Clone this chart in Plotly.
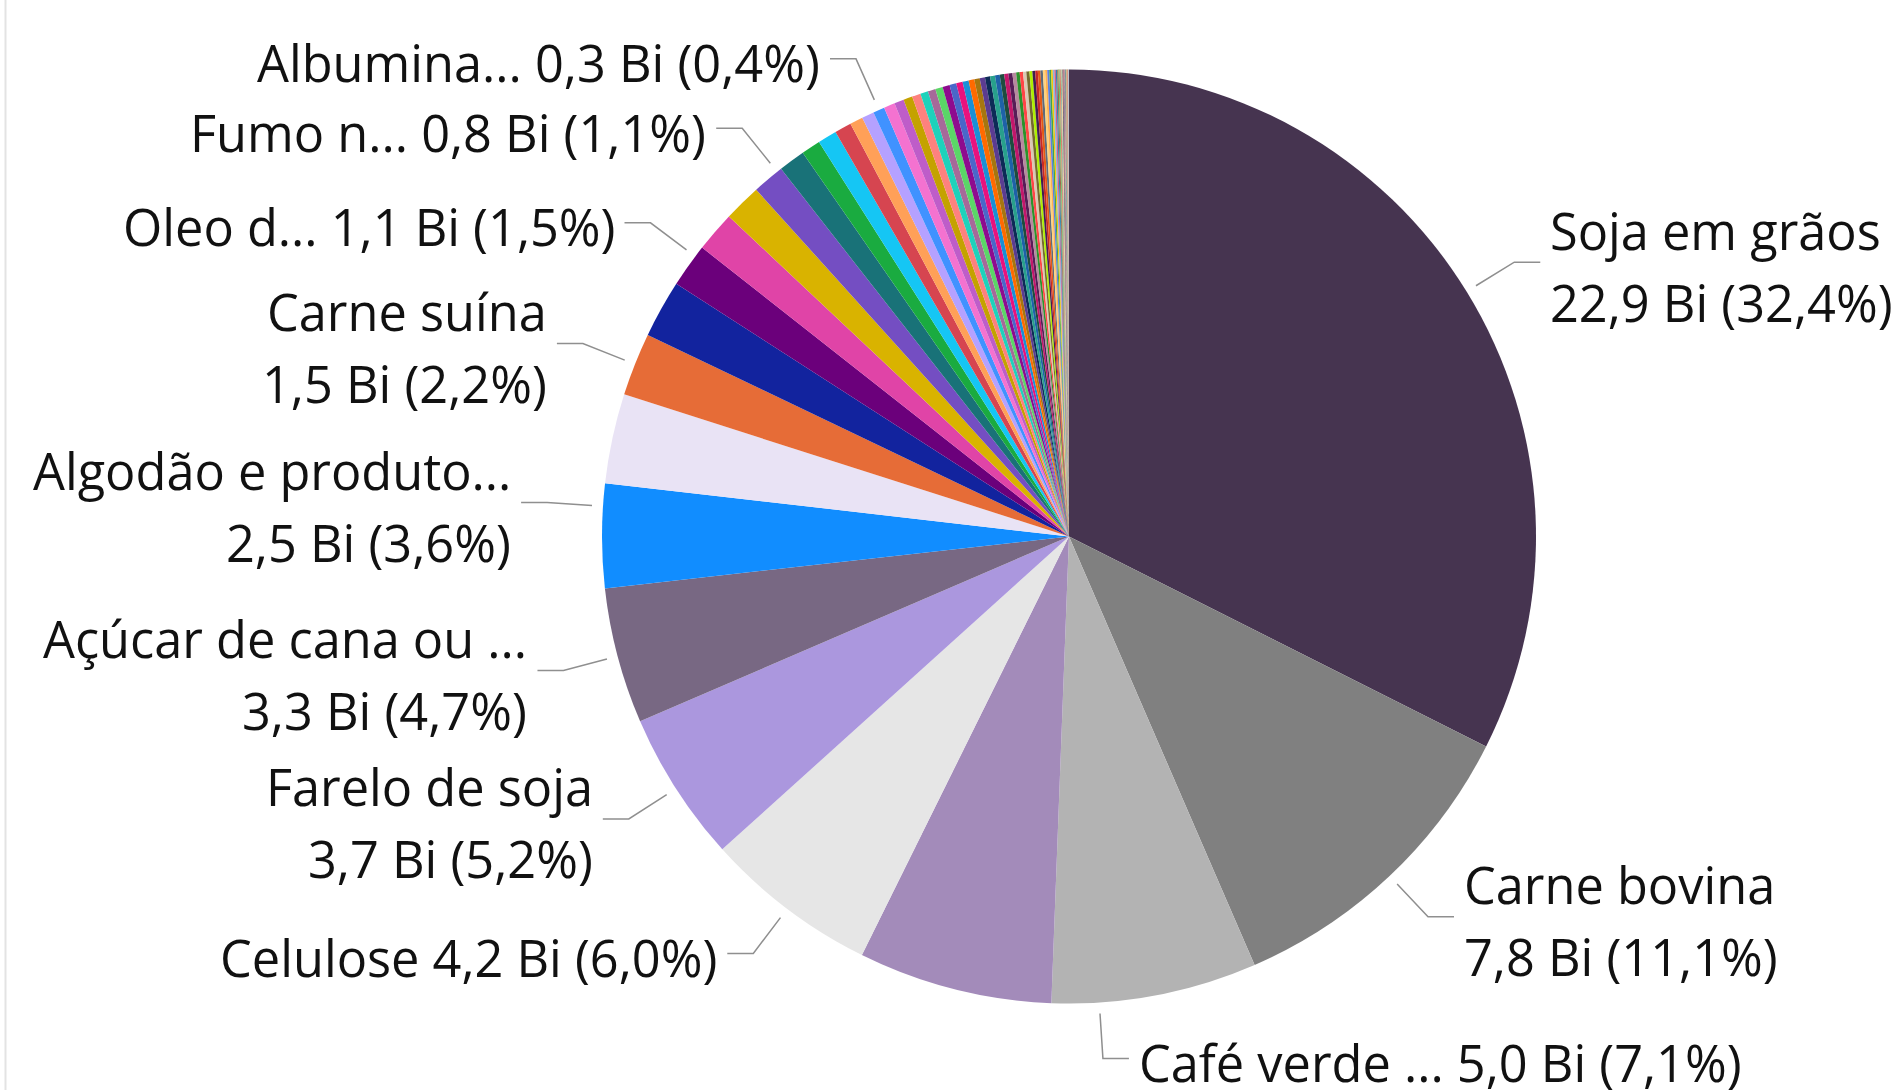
import math
import plotly.graph_objects as go

# ---------------- data ----------------
main_categories = [
    "Soja em grãos", "Carne bovina", "Café verde ...", "Milho", "Celulose",
    "Farelo de soja", "Açúcar de cana ou ...", "Algodão e produto...",
    "Sumos de laranja", "Carne suína", "Carnes de aves", "Oleo d...",
    "Couros", "Madeira", "Fumo n...",
]
main_values = [22.90, 7.82, 5.02, 4.74, 4.24, 3.68, 3.32, 2.54, 2.19, 1.54, 1.41, 1.07, 0.99, 0.92, 0.78]

mid_categories = [
    "Produto 16", "Produto 17", "Produto 18", "Produto 19", "Produto 20",
    "Produto 21", "Albumina...", "Produto 23", "Produto 24", "Produto 25", "Produto 26",
]
mid_values = [0.65, 0.47, 0.465, 0.41, 0.32, 0.30, 0.28, 0.27, 0.235, 0.22, 0.21]

small_values = [0.191, 0.187, 0.181, 0.173, 0.165, 0.157, 0.149, 0.140, 0.133, 0.129,
                0.124, 0.121, 0.115, 0.108, 0.102, 0.098, 0.091, 0.084, 0.082, 0.080,
                0.075, 0.071, 0.068, 0.064, 0.062, 0.059, 0.055, 0.051, 0.048]
tail_values = [0.044, 0.041, 0.039, 0.035, 0.033, 0.030, 0.028, 0.026, 0.023, 0.021,
               0.019, 0.018, 0.015, 0.014, 0.013, 0.012, 0.011, 0.009, 0.008, 0.007,
               0.006, 0.005, 0.005, 0.004, 0.004, 0.002, 0.002, 0.001, 0.001, 0.001]
small_categories = ["Produto %d" % (27 + i) for i in range(len(small_values) + len(tail_values))]

# labelled slices: category -> name wrapped onto its own line?
label_two_lines = {
    "Soja em grãos": True, "Carne bovina": True, "Café verde ...": False,
    "Celulose": False, "Farelo de soja": True, "Açúcar de cana ou ...": True,
    "Algodão e produto...": True, "Carne suína": True, "Oleo d...": False,
    "Fumo n...": False, "Albumina...": False,
}
# where along its slice each leader line starts (0 = slice start, 1 = slice end)
anchor_frac = {"Café verde ...": 0.77, "Algodão e produto...": 0.78,
               "Oleo d...": 0.75, "Fumo n...": 0.85}

# ---------------- styles ----------------
colors = [
    "#463450", "#808080", "#B3B3B3", "#A38BBA", "#E6E6E6", "#AB97DE", "#786883",
    "#118DFF", "#E9E3F5", "#E66C37", "#12239E", "#6B007B", "#E044A7", "#D9B300",
    "#744EC2", "#197278", "#1AAB40", "#15C6F4", "#D64550", "#FFA058", "#B5A1FF",
    "#4092FF", "#F472D0", "#BE5DC9", "#C4A200", "#FD817E", "#1ED2BB", "#A66999",
    "#5BD667", "#8E0B8E", "#4A67C9", "#E8127E", "#1A8FD6", "#FF6A00", "#A6760F",
    "#5B3C91", "#0D2B57", "#28A08C", "#1E62A8", "#1D4D3F", "#C2176B", "#571D57",
    "#B8899E", "#2C922C", "#FF4545", "#D9C9B3", "#756A2E", "#AEF000", "#3F1F4F",
    "#C62828", "#E55A14", "#5F6B7A", "#FFD27A", "#FFB04F", "#5C7EDE",
    "#3FA34D", "#F0C808", "#8FB3E0", "#D05A8A", "#2E86AB", "#9C6644", "#6ABF69",
    "#E07A5F", "#81B29A", "#F2CC8F", "#3D405B", "#B56576", "#6D597A", "#EAAC8B",
    "#355070", "#43AA8B", "#F9844A", "#90BE6D", "#577590", "#F94144", "#F3722C",
    "#F8961E", "#4D908E", "#277DA1", "#C5A3FF", "#A0C4FF", "#FFADAD", "#CAFFBF",
    "#9BF6FF", "#BDB2FF",
]

W, H = 1897, 1090
CX, CY, R = 1069, 536.5, 467
FONT = "Segoe UI, Open Sans, sans-serif"
FS = 50.5
TEXT_DROP = 4      # text sits slightly below its leader line
LINE_GAP = 36      # half the distance between the two lines of a wrapped label

categories = main_categories + mid_categories + small_categories
values = main_values + mid_values + small_values + tail_values
total = sum(values)

fig = go.Figure()
fig.add_trace(go.Pie(
    labels=categories, values=values, sort=False, direction="clockwise", rotation=0,
    marker=dict(colors=colors[:len(values)], line=dict(width=0)),
    textinfo="none", showlegend=False,
    domain=dict(x=[(CX - R) / W, (CX + R) / W], y=[1 - (CY + R) / H, 1 - (CY - R) / H]),
    hovertemplate="%{label}<br>%{value:.2f} Bi (%{percent})<extra></extra>",
))

def fmt(v, d=1):
    return ("%.*f" % (d, v)).replace(".", ",")

lx, ly = [], []
annotations = []
cum = 0.0
for cat, v in zip(categories, values):
    start = cum
    cum += v
    if cat not in label_two_lines:
        continue
    f = anchor_frac.get(cat, 0.5)
    ang = 2 * math.pi * (start + f * v) / total
    s, c = math.sin(ang), math.cos(ang)
    x1, y1 = CX + (R + 11) * s, CY - (R + 11) * c
    x2, y2 = CX + (R + 56) * s, CY - (R + 56) * c
    side = 1 if s >= 0 else -1
    x3 = x2 + side * 26
    lx += [x1, x2, x3, None]
    ly += [y1, y2, y2, None]
    vtxt = "%s Bi (%s%%)" % (fmt(v), fmt(100 * v / total))
    xt = x3 + side * 8
    xanchor = "left" if side > 0 else "right"
    yc = y2 + TEXT_DROP
    if label_two_lines[cat]:
        lines = [(cat, yc - LINE_GAP), (vtxt, yc + LINE_GAP)]
    else:
        lines = [(cat + " " + vtxt, yc)]
    for t, yy in lines:
        annotations.append(dict(
            x=xt, y=yy, xref="x", yref="y", text=t, showarrow=False,
            xanchor=xanchor, yanchor="middle",
            font=dict(family=FONT, size=FS, color="#111111"),
        ))

fig.add_trace(go.Scatter(
    x=lx, y=ly, mode="lines", line=dict(color="#8F8F8F", width=1.5),
    hoverinfo="skip", showlegend=False,
))

fig.update_layout(
    width=W, height=H, margin=dict(l=0, r=0, t=0, b=0),
    paper_bgcolor="white", plot_bgcolor="rgba(0,0,0,0)",
    xaxis=dict(range=[0, W], visible=False, fixedrange=True, domain=[0, 1]),
    yaxis=dict(range=[H, 0], visible=False, fixedrange=True, domain=[0, 1]),
    annotations=annotations,
    shapes=[dict(type="line", xref="x", yref="y", x0=5.5, x1=5.5, y0=0, y1=H,
                 line=dict(color="#E3E3E3", width=2), layer="below")],
)

fig.write_html("out.html", config={"displayModeBar": False},
               post_script="document.body.style.margin='0';document.body.style.overflow='hidden';")
